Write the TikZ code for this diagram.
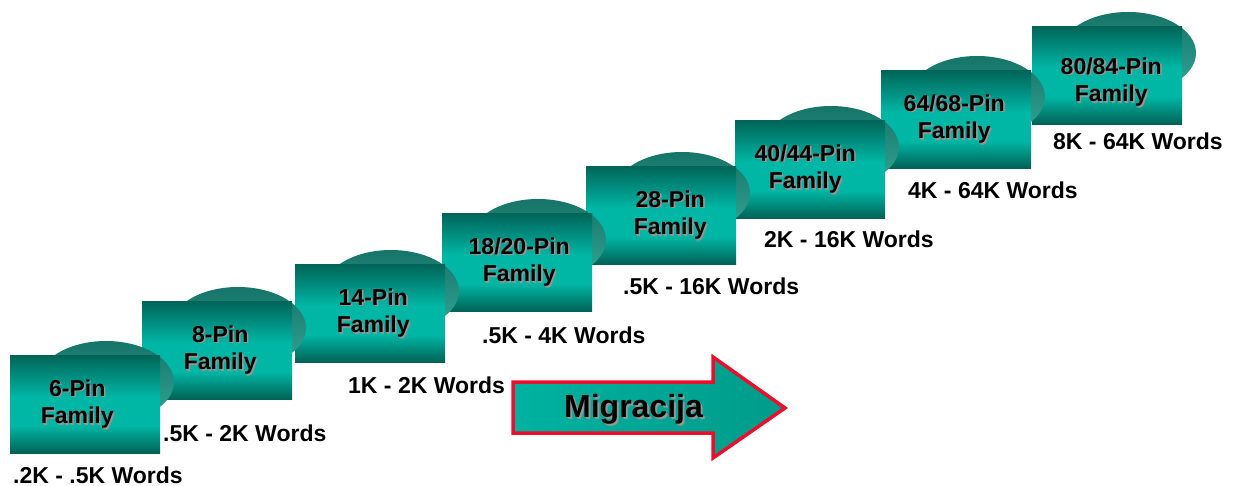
\documentclass[tikz,border=0pt]{standalone}
\usepackage{fontspec}
\setmainfont{Liberation Sans}
\usetikzlibrary{shapes.geometric}
\definecolor{bxdark}{RGB}{0,98,86}
\definecolor{bxlight}{RGB}{0,182,164}
\definecolor{bxtop}{RGB}{0,100,88}
\definecolor{elltop}{RGB}{22,116,104}
\definecolor{ellbot}{RGB}{50,168,152}
\definecolor{arrred}{RGB}{232,16,44}
\definecolor{arrl}{RGB}{0,178,160}
\definecolor{arrr}{RGB}{0,155,138}
\definecolor{shgray}{RGB}{150,150,150}
\pgfdeclareverticalshading{boxshade}{100bp}{color(0bp)=(bxdark); color(25bp)=(bxdark); color(39bp)=(bxlight); color(54bp)=(bxlight); color(75bp)=(bxtop); color(100bp)=(bxtop)}
\tikzset{
  chipbox/.style={rectangle, anchor=north west, minimum width=150pt, minimum height=98pt, inner sep=0pt, shading=boxshade},
  chipell/.style={ellipse, minimum width=136pt, minimum height=82pt, inner sep=0pt, top color=elltop, bottom color=ellbot},
  chiptxt/.style={align=center, inner sep=0pt, font=\bfseries\fontsize{23}{27.5}\selectfont},
  chipshadow/.style={chiptxt, text=shgray},
  wordlbl/.style={anchor=base west, inner sep=0pt, font=\bfseries\fontsize{23}{27.5}\selectfont},
  migtxt/.style={anchor=base, inner sep=0pt, font=\bfseries\fontsize{32}{36}\selectfont}
}
\begin{document}
\begin{tikzpicture}[x=1pt,y=-1pt]
\useasboundingbox (0,0) rectangle (1240,486);
% groups drawn from last to first
\foreach \i/\x/\y/\dx/\dy/\txt in {8/1032/26/4/7/{80/84-Pin\\Family},7/881/70/-2/0/{64/68-Pin\\Family},6/735/120/-5/0/{40/44-Pin\\Family},5/586/166/9/0/{28-Pin\\Family},4/442/213/2/0/{18/20-Pin\\Family},3/295/264/3/0/{14-Pin\\Family},2/142/301/3/0/{8-Pin\\Family},1/10/355/-8/0/{6-Pin\\Family}}{
  \node[chipell] (e\i) at (\x+96,\y+27) {};
  \node[chipbox] (b\i) at (\x,\y) {};
  \node[chipshadow] (s\i) at ([shift={(\dx+1.6,\dy+1.6)}]b\i.center) {\txt};
  \node[chiptxt] (t\i) at ([shift={(\dx,\dy)}]b\i.center) {\txt};
}
% word labels
\node[wordlbl] (w1) at (13,483) {.2K - .5K Words};
\node[wordlbl] (w2) at (163,441) {.5K - 2K Words};
\node[wordlbl] (w3) at (348,393) {1K - 2K Words};
\node[wordlbl] (w4) at (482,344) {.5K - 4K Words};
\node[wordlbl] (w5) at (623,295) {.5K - 16K Words};
\node[wordlbl] (w6) at (764,248) {2K - 16K Words};
\node[wordlbl] (w7) at (908,199) {4K - 64K Words};
\node[wordlbl] (w8) at (1053,150) {8K - 64K Words};
% migration arrow
\path[draw=arrred, line width=3.5pt, line join=miter, left color=arrl, right color=arrr]
  (513,382) -- (713,382) -- (713,357) -- (785,408) -- (713,458) -- (713,433) -- (513,433) -- cycle;
\node[migtxt, text=shgray] (ms) at (635.5,419.5) {Migracija};
\node[migtxt] (mt) at (633.5,417.5) {Migracija};
\end{tikzpicture}
\end{document}
